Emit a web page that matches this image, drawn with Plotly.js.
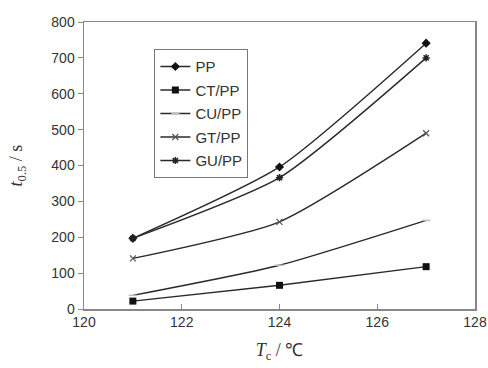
<!DOCTYPE html>
<html><head><meta charset="utf-8">
<script src="https://cdn.plot.ly/plotly-3.0.1.min.js"></script>
<style>body{margin:0;background:#fff}#c{width:488px;height:368px}</style>
</head><body><div id="c"></div>
<script>
const tc = [121, 124, 127];
const pp = [197, 396, 741];
const ctpp = [22, 66, 118];
const cupp = [38, 122, 247];
const gtpp = [141, 243, 490];
const gupp = [197, 366, 700];
const names = ['PP', 'CT/PP', 'CU/PP', 'GT/PP', 'GU/PP'];
const xticks = [120, 122, 124, 126, 128];
const yticks = [0, 100, 200, 300, 400, 500, 600, 700, 800];

const line = {color: '#2a2a2a', width: 1.4, shape: 'spline', smoothing: 0.6};
const mk = [
  {symbol: 'diamond', size: 7, color: '#111'},
  {symbol: 'square', size: 7, color: '#111'},
  {symbol: 'line-ew-open', size: 6, color: '#bbb', line: {color: '#bbb', width: 1.5}},
  {symbol: 'x-thin-open', size: 6, color: '#555', line: {color: '#555', width: 1.2}},
  {symbol: 'asterisk-open', size: 6, color: '#222', line: {color: '#222', width: 1.5}}
];
const series = [pp, ctpp, cupp, gtpp, gupp];
const traces = series.map((s, i) => ({
  x: tc, y: s, name: names[i], type: 'scatter', mode: 'lines+markers',
  legendgroup: 'g' + i,
  line: line, marker: mk[i]
}));

const layout = {
  width: 488, height: 368,
  margin: {l: 84, r: 13, t: 22, b: 59},
  paper_bgcolor: '#fff', plot_bgcolor: '#fff',
  font: {family: 'Liberation Sans, Arial, sans-serif', size: 14, color: '#333'},
  showlegend: true,
  legend: {x: 0.18, y: 0.905, xanchor: 'left', yanchor: 'top',
    bordercolor: '#777', borderwidth: 1, bgcolor: '#fff',
    font: {size: 15, color: '#333'}, tracegroupgap: 1, itemwidth: 30},
  xaxis: {range: [120, 128], tickvals: xticks, ticktext: xticks.map(String),
    showgrid: false, zeroline: false, showline: true, linecolor: '#888', linewidth: 1.5,
    mirror: true, ticks: 'inside', ticklen: 5, tickcolor: '#888',
    title: {text: '<i>T</i><sub>c</sub> / \u2103', font: {family: 'Liberation Serif, Times New Roman, serif', size: 18, color: '#333'}, standoff: 14}},
  yaxis: {range: [0, 800], tickvals: yticks, ticktext: yticks.map(String),
    showgrid: false, zeroline: false, showline: true, linecolor: '#888', linewidth: 1.5,
    mirror: true, ticks: 'outside', ticklen: 5, tickcolor: '#888',
    title: {text: '<i>t</i><sub>0.5</sub> / s', font: {family: 'Liberation Serif, Times New Roman, serif', size: 18, color: '#333'}, standoff: 24}}
};
Plotly.newPlot('c', traces, layout, {displayModeBar: false, staticPlot: true});
</script></body></html>
